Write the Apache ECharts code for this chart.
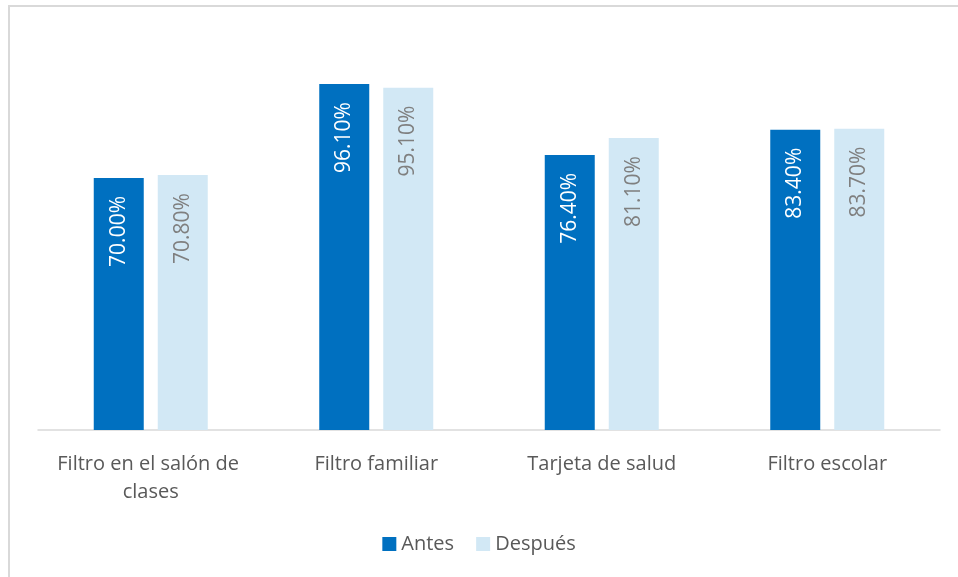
<!DOCTYPE html>
<html>
<head>
<meta charset="utf-8">
<script src="https://cdn.jsdelivr.net/npm/echarts@6/dist/echarts.min.js"></script>
<style>
  html, body { margin: 0; padding: 0; background: #fff; }
  #main { width: 958px; height: 577px; }
</style>
</head>
<body>
<div id="main"></div>
<script>
var categories = ['Filtro en el salón de clases', 'Filtro familiar', 'Tarjeta de salud', 'Filtro escolar'];
var antes = [70.0, 96.1, 76.4, 83.4];
var despues = [70.8, 95.1, 81.1, 83.7];

var chart = echarts.init(document.getElementById('main'));
var font = 'Open Sans';

function valueLabel(color) {
	return {
		show: true,
		position: 'insideTop',
		rotate: 90,
		align: 'right',
		verticalAlign: 'middle',
		distance: 18,
		color: color,
		fontSize: 21,
		fontFamily: font,
		formatter: function (p) { return p.value.toFixed(2) + '%'; }
	};
}

var option = {
	animation: false,
	graphic: [{
		type: 'rect',
		shape: { x: 9, y: 6, width: 980, height: 600 },
		style: { fill: 'none', stroke: '#d9d9d9', lineWidth: 2 },
		silent: true
	}],
	grid: { left: 38, right: 18, top: 70, bottom: 147 },
	legend: {
		bottom: 18,
		left: 'center',
		itemWidth: 14,
		itemHeight: 14,
		itemGap: 22,
		icon: 'rect',
		textStyle: { color: '#595959', fontSize: 20, fontFamily: font },
		data: ['Antes', 'Después']
	},
	xAxis: {
		type: 'category',
		data: categories,
		axisLine: { lineStyle: { color: '#d9d9d9', width: 1.5 } },
		axisTick: { show: false },
		axisLabel: {
			color: '#595959',
			fontSize: 20,
			fontFamily: font,
			margin: 20,
			lineHeight: 28,
			width: 215,
			overflow: 'break',
			interval: 0
		}
	},
	yAxis: {
		type: 'value',
		min: 0,
		max: 100,
		show: false
	},
	series: [{
		name: 'Antes',
		type: 'bar',
		data: antes,
		barWidth: 50,
		barGap: '28%',
		itemStyle: { color: '#0070C0' },
		label: valueLabel('#ffffff')
	}, {
		name: 'Después',
		type: 'bar',
		data: despues,
		barWidth: 50,
		itemStyle: { color: '#D2E8F5' },
		label: valueLabel('#7f7f7f')
	}]
};

chart.setOption(option);
</script>
</body>
</html>
